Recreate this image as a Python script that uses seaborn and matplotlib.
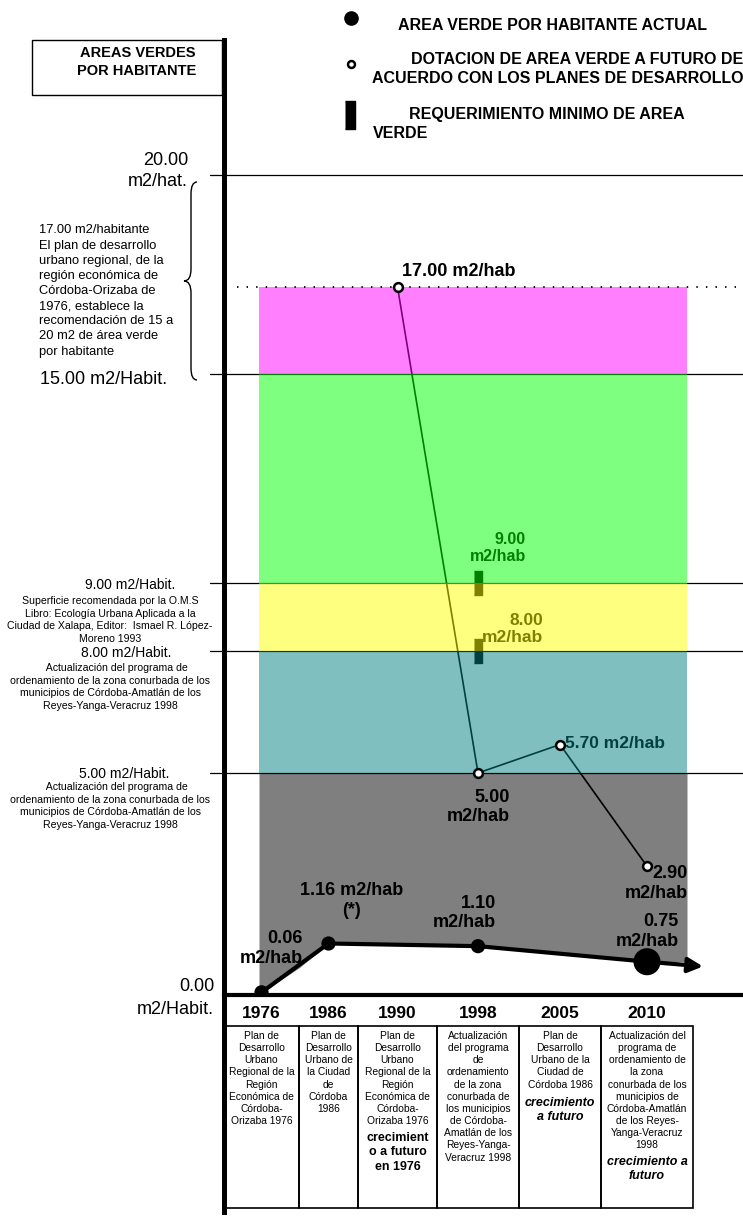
import numpy as np
import pandas as pd
import matplotlib
matplotlib.use("Agg")
import matplotlib.pyplot as plt
import matplotlib.transforms as mtransforms
from matplotlib.lines import Line2D
from matplotlib.patches import Rectangle, PathPatch
from matplotlib.path import Path
import seaborn as sns

# ---- data ----
years = ['1976', '1986', '1990', '1998', '2005', '2010']
actual_years = ['1976', '1986', '1998', '2010']
actual_vals = [0.06, 1.16, 1.10, 0.75]
actual_labels = ['0.06\nm2/hab', '1.16 m2/hab\n(*)', '1.10\nm2/hab', '0.75\nm2/hab']
future_years = ['1990', '1998', '2005', '2010']
future_vals = [17.00, 5.00, 5.70, 2.90]
future_labels = ['17.00 m2/hab', '5.00\nm2/hab', '5.70 m2/hab', '2.90\nm2/hab']
minimum_year = '1998'
minimum_vals = [9.00, 8.00]
minimum_labels = ['9.00\nm2/hab', '8.00\nm2/hab']
band_limits = [5, 8, 9, 15, 17]
band_colors = ['#008080', '#FFFF00', '#00FF00', '#FF00FF']
ref_lines = [5, 8, 9, 15, 20]

cell_notes = [
    'Plan de\nDesarrollo\nUrbano\nRegional de la\nRegión\nEconómica de\nCórdoba-\nOrizaba 1976',
    'Plan de\nDesarrollo\nUrbano de\nla Ciudad\nde\nCórdoba\n1986',
    'Plan de\nDesarrollo\nUrbano\nRegional de la\nRegión\nEconómica de\nCórdoba-\nOrizaba 1976',
    'Actualización\ndel programa\nde\nordenamiento\nde la zona\nconurbada de\nlos municipios\nde Córdoba-\nAmatlán de los\nReyes-Yanga-\nVeracruz 1998',
    'Plan de\nDesarrollo\nUrbano de la\nCiudad de\nCórdoba 1986',
    'Actualización del\nprograma de\nordenamiento de\nla zona\nconurbada de los\nmunicipios de\nCórdoba-Amatlán\nde los Reyes-\nYanga-Veracruz\n1998',
]
cell_extra = ['', '', 'crecimient\no a futuro\nen 1976', '', 'crecimiento\na futuro', 'crecimiento a\nfuturo']
cell_extra_italic = [False, False, False, False, True, True]

ref_notes = {
    20: ('20.00\nm2/hat.', ''),
    15: ('15.00 m2/Habit.', ''),
    9: ('9.00 m2/Habit.', 'Superficie recomendada por la O.M.S\nLibro: Ecología Urbana Aplicada a la\n'
                          'Ciudad de Xalapa, Editor:  Ismael R. López-\nMoreno 1993'),
    8: ('8.00 m2/Habit.', '     Actualización del programa de\nordenamiento de la zona conurbada de los\n'
                          'municipios de Córdoba-Amatlán de los\nReyes-Yanga-Veracruz 1998'),
    5: ('5.00 m2/Habit.', '     Actualización del programa de\nordenamiento de la zona conurbada de los\n'
                          'municipios de Córdoba-Amatlán de los\nReyes-Yanga-Veracruz 1998'),
}
brace_note = ('17.00 m2/habitante\nEl plan de desarrollo\nurbano regional, de la\nregión económica de\n'
              'Córdoba-Orizaba de\n1976, establece la\nrecomendación de 15 a\n20 m2 de área verde\npor habitante')

# ---- layout (pixels of the 743x1219 canvas) ----
W, H = 743, 1219
AX_L, AX_B, AX_T, TAB_B = 224, 995, 40, 1212
col_edges = [224, 299, 358, 437, 519, 601, 693]
y_breaks = [0, 5, 8, 9, 15, 17, 20]
y_pix = [995, 773, 651, 583, 374, 287, 175]


def piecewise(xp, fp):
    xp = np.asarray(xp, float)
    fp = np.asarray(fp, float)
    s0 = (fp[1] - fp[0]) / (xp[1] - xp[0])
    s1 = (fp[-1] - fp[-2]) / (xp[-1] - xp[-2])

    def fwd(v):
        v = np.asarray(v, float)
        out = np.interp(v, xp, fp)
        out = np.where(v < xp[0], fp[0] + (v - xp[0]) * s0, out)
        return np.where(v > xp[-1], fp[-1] + (v - xp[-1]) * s1, out)

    def inv(u):
        u = np.asarray(u, float)
        out = np.interp(u, fp, xp)
        out = np.where(u < fp[0], xp[0] + (u - fp[0]) / s0, out)
        return np.where(u > fp[-1], xp[-1] + (u - fp[-1]) / s1, out)
    return fwd, inv


xf, xi = piecewise(np.arange(len(col_edges)) - 0.5, np.array(col_edges) - AX_L)
yf, yi = piecewise(y_breaks, AX_B - np.array(y_pix))

sns.set_style('white')
plt.rcParams['font.family'] = ['Liberation Sans', 'DejaVu Sans']
plt.rcParams['text.color'] = 'black'
plt.rcParams['axes.edgecolor'] = 'black'

fig = plt.figure(figsize=(W / 100, H / 100), dpi=100)
ax = fig.add_axes([AX_L / W, 1 - AX_B / H, 1 - AX_L / W, (AX_B - AX_T) / H])
ax.set_xscale('function', functions=(xf, xi))
ax.set_yscale('function', functions=(yf, yi))
ax.set_xlim(-0.5, float(xi(W - AX_L)))
ax.set_ylim(0, float(yi(AX_B - AX_T)))
ax.set_xticks([])
ax.set_yticks([])
for s in ['top', 'right']:
    ax.spines[s].set_visible(False)
ax.spines['left'].set_linewidth(3.6)
ax.spines['bottom'].set_linewidth(3.0)
ax.spines['left'].set_zorder(6)
ax.spines['bottom'].set_zorder(6)


def axx(px):
    return (px - AX_L) / (W - AX_L)


bt = mtransforms.blended_transform_factory(ax.transAxes, ax.transData)
xpos = {y: i for i, y in enumerate(years)}

# reference levels
for v in ref_lines:
    ax.axhline(v, xmin=axx(210), xmax=1, color='black', lw=0.9, zorder=1, clip_on=False)
ax.axhline(17, xmin=axx(237), xmax=axx(736), color='black', lw=1.3, ls=(0, (0.8, 4.5)), zorder=3)

# future provision line, drawn under the translucent bands
df_fut = pd.DataFrame({'x': [xpos[y] for y in future_years], 'v': future_vals})
sns.lineplot(data=df_fut, x='x', y='v', ax=ax, color='black', lw=1.2, zorder=1.5, sort=False)

# minimum requirement marks
bar = [(-0.17, -0.5), (0.17, -0.5), (0.17, 0.5), (-0.17, 0.5)]
ax.plot([xpos[minimum_year]] * len(minimum_vals), minimum_vals, ls='none', marker=bar,
        ms=17, color='black', zorder=1.5)
ax.annotate(minimum_labels[0], (xpos[minimum_year], minimum_vals[0]), xytext=(48, 35),
            textcoords='offset pixels', ha='right', va='center', fontsize=11.5, fontweight='bold',
            multialignment='right', linespacing=1.2, zorder=1.5)
ax.annotate(minimum_labels[1], (xpos[minimum_year], minimum_vals[1]), xytext=(65, 22),
            textcoords='offset pixels', ha='right', va='center', fontsize=12.5, fontweight='bold',
            multialignment='right', linespacing=1.2, zorder=1.5)
ax.annotate(future_labels[2], (xpos[future_years[2]], future_vals[2]), xytext=(5, 1),
            textcoords='offset pixels', ha='left', va='center', fontsize=12.5, fontweight='bold', zorder=1.5)

# translucent bands
bx0, bx1 = float(xi(259 - AX_L)), float(xi(687 - AX_L))
for lo, hi, c in zip(band_limits[:-1], band_limits[1:], band_colors):
    ax.fill_between([bx0, bx1], lo, hi, color=c, alpha=0.5, lw=0, zorder=2)
act_x = np.array([xpos[y] for y in actual_years], float)
xs = np.linspace(bx0, bx1, 300)
ax.fill_between(xs, np.interp(xs, act_x, actual_vals), band_limits[0], color='black', alpha=0.5,
                lw=0, zorder=2)

# current green area per inhabitant
df_act = pd.DataFrame({'x': act_x, 'v': actual_vals, 'year': actual_years})
sns.lineplot(data=df_act, x='x', y='v', ax=ax, color='black', lw=3, zorder=3)
tip_x = float(xi(703 - AX_L))
slope = (actual_vals[-1] - actual_vals[-2]) / (act_x[-1] - act_x[-2])
ax.annotate('', xy=(tip_x, actual_vals[-1] + slope * (tip_x - act_x[-1])), xytext=(act_x[-1], actual_vals[-1]),
            arrowprops=dict(arrowstyle='-|>', lw=3, color='black', mutation_scale=22, shrinkA=0, shrinkB=0),
            zorder=3)
sizes = np.where(df_act['year'] == years[-1], 380, 105)
ax.scatter(df_act['x'], df_act['v'], s=sizes, color='black', zorder=4, lw=0)
ax.set_xlabel('')
ax.set_ylabel('')

ax.scatter(df_fut['x'], df_fut['v'], s=40, facecolor='white', edgecolor='black', lw=1.8, zorder=4)

act_off = [(41, 44), (23, 43), (18, 33), (32, 30)]
act_ha = ['right', 'center', 'right', 'right']
for (xv, v, lab, off, ha) in zip(act_x, actual_vals, actual_labels, act_off, act_ha):
    ax.annotate(lab, (xv, v), xytext=off, textcoords='offset pixels', ha=ha, va='center',
                multialignment=ha, fontsize=13, fontweight='bold', linespacing=1.2, zorder=5)
fut_off = {0: (5, 15, 'left'), 1: (32, -34, 'right'), 3: (41, -17, 'right')}
for k, (dx, dy, ha) in fut_off.items():
    ax.annotate(future_labels[k], (xpos[future_years[k]], future_vals[k]), xytext=(dx, dy),
                textcoords='offset pixels', ha=ha, va='center', multialignment=ha,
                fontsize=13, fontweight='bold', linespacing=1.2, zorder=5)

# notes on the left of the value axis
ax.annotate(ref_notes[20][0], (axx(188), 20), xycoords=bt, xytext=(0, 4), textcoords='offset pixels',
            ha='right', va='center', fontsize=13, linespacing=1.37, annotation_clip=False)
ax.annotate(ref_notes[15][0], (axx(104), 15), xycoords=bt, xytext=(0, -6), textcoords='offset pixels',
            ha='center', va='center', fontsize=13, annotation_clip=False)
for v, cx, dy, dy2 in [(9, 130, -2, -37), (8, 126, -2, -36), (5, 124, -1, -33)]:
    ax.annotate(ref_notes[v][0], (axx(cx), v), xycoords=bt, xytext=(0, dy), textcoords='offset pixels',
                ha='center', va='center', fontsize=10, annotation_clip=False)
    ax.annotate(ref_notes[v][1], (axx(110), v), xycoords=bt, xytext=(0, dy2), textcoords='offset pixels',
                ha='center', va='center', fontsize=7.6, linespacing=1.33, annotation_clip=False)
ax.annotate(brace_note, (axx(39), 17), xycoords=bt, xytext=(0, -4), textcoords='offset pixels',
            ha='left', va='center', fontsize=9.3, linespacing=1.35, annotation_clip=False)
ax.annotate('0.00\nm2/Habit.', (axx(214), 0), xycoords=bt, xytext=(0, -3), textcoords='offset pixels',
            ha='right', va='center', multialignment='right', fontsize=13, linespacing=1.4,
            annotation_clip=False)


def fxy(px, py):
    return px / W, 1 - py / H


# curly brace between 20 and 15
pts = [(197, 182), (191, 182), (191, 194), (191, 269), (191, 281), (184, 281), (191, 281), (191, 293),
       (191, 368), (191, 380), (197, 380)]
codes = [Path.MOVETO, Path.CURVE3, Path.CURVE3, Path.LINETO, Path.CURVE3, Path.CURVE3, Path.CURVE3,
         Path.CURVE3, Path.LINETO, Path.CURVE3, Path.CURVE3]
fig.add_artist(PathPatch(Path([fxy(*p) for p in pts], codes), fill=False, lw=1.0, color='black',
                         transform=fig.transFigure))

# title box
fig.add_artist(Rectangle(fxy(32, 95), 190 / W, 55 / H, fill=False, lw=1.0, color='black',
                         transform=fig.transFigure))
fig.text(*fxy(196, 62), 'AREAS VERDES\nPOR HABITANTE', ha='right', va='center', multialignment='right',
         fontsize=10.5, fontweight='bold', linespacing=1.4)

# legend
fig.add_artist(Line2D(*zip(fxy(351, 18)), marker='o', ms=9.5, color='black', ls='none',
                      transform=fig.transFigure))
fig.text(*fxy(398, 25), 'AREA VERDE POR HABITANTE ACTUAL', ha='left', va='center', fontsize=11.5,
         fontweight='bold')
fig.add_artist(Line2D(*zip(fxy(351, 64)), marker='o', ms=5, mfc='white', mec='black', mew=1.8,
                      ls='none', transform=fig.transFigure))
fig.text(*fxy(743, 69), 'DOTACION DE AREA VERDE A FUTURO DE\nACUERDO CON LOS PLANES DE DESARROLLO',
         ha='right', va='center', multialignment='right', fontsize=11.5, fontweight='bold', linespacing=1.35)
fig.add_artist(Line2D(*zip(fxy(350, 115)), marker=bar, ms=20, color='black', ls='none',
                      transform=fig.transFigure))
fig.text(*fxy(373, 124), '        REQUERIMIENTO MINIMO DE AREA\nVERDE', ha='left', va='center',
         fontsize=11.5, fontweight='bold', linespacing=1.35)

# table of sources under the time axis
tab = fig.add_axes([AX_L / W, 1 - TAB_B / H, 1 - AX_L / W, (TAB_B - AX_B) / H])
tab.set_xscale('function', functions=(xf, xi))
tab.set_xlim(ax.get_xlim())
tab.set_ylim(TAB_B - AX_B, 0)
tab.set_xticks([])
tab.set_yticks([])
for s in ['top', 'right', 'bottom']:
    tab.spines[s].set_visible(False)
tab.spines['left'].set_linewidth(3.6)
tab.patch.set_alpha(0)
pitch = 11.9
for i, y in enumerate(years):
    tab.text(i, 19, y, ha='center', va='center', fontsize=12.5, fontweight='bold')
    tab.add_patch(Rectangle((i - 0.5, 31), 1, 182, fill=False, lw=1.2, color='black'))
    tab.text(i, 36, cell_notes[i], ha='center', va='top', fontsize=7.4, linespacing=1.27)
    if cell_extra[i]:
        n = cell_notes[i].count('\n') + 1
        tab.text(i, 42 + n * pitch, cell_extra[i], ha='center', va='top', fontsize=9,
                 fontweight='bold', style='italic' if cell_extra_italic[i] else 'normal', linespacing=1.25)

fig.savefig('out.png', dpi=100)
